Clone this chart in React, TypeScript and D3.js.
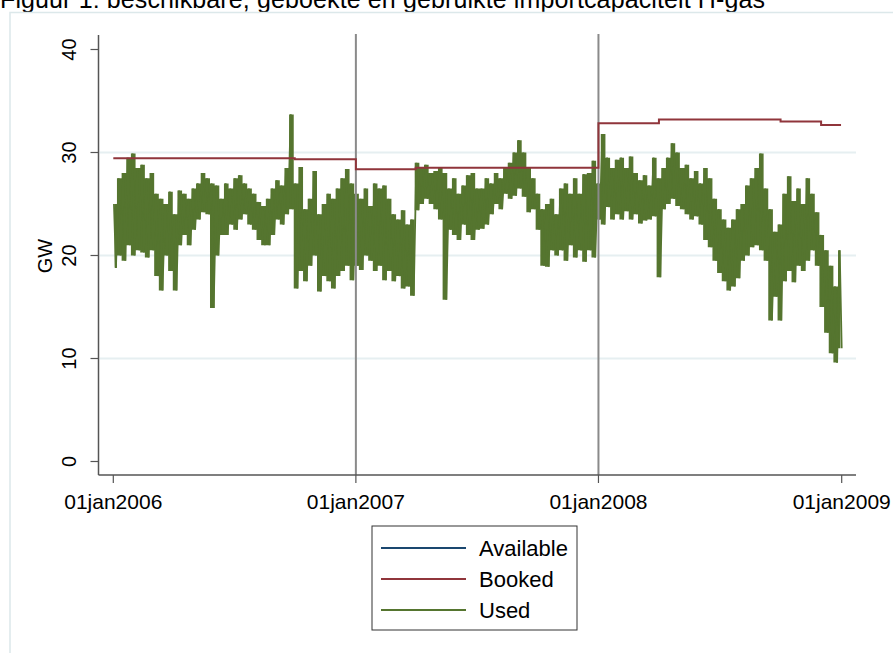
import React from 'react';
import * as d3 from 'd3';

const titleText = 'Figuur 1: beschikbare, geboekte en gebruikte importcapaciteit H-gas';
const yAxisLabel = 'GW';
const yTicks = [0, 10, 20, 30, 40];
const gridValues = [10, 20, 30];
const xTickDates = ['2006-01-01', '2007-01-01', '2008-01-01', '2009-01-01'];
const xTickLabels = ['01jan2006', '01jan2007', '01jan2008', '01jan2009'];
const xLineDates = ['2007-01-01', '2008-01-01'];
const seriesNames = ['Available', 'Booked', 'Used'];
const seriesColors = ['#1a476f', '#90353b', '#55752f'];

const availableDates: string[] = [];
const availableValues: number[] = [];

const bookedDates = ['2006-01-01', '2006-10-01', '2007-01-01', '2007-04-01', '2008-01-01', '2008-04-01', '2008-10-01', '2008-12-01', '2008-12-31'];
const bookedValues = [29.45, 29.35, 28.37, 28.52, 32.83, 33.2, 33.0, 32.67, 32.67];

// Used: weekly weekday peak and weekend trough, weeks starting 01jan2006
const usedStart = '2006-01-01';
const usedWeeklyHigh = [
  // 2006
  25, 27.5, 28, 29.5, 29.9, 28.5, 28.8, 27.5, 28, 26,
  25.5, 25, 26.2, 24, 26.3, 26, 25.5, 26.5, 27, 28,
  27.5, 27, 26.8, 25.5, 27, 26.5, 27.5, 27.8, 27, 26.5,
  26, 25.2, 24.8, 25.5, 26.5, 27.3, 26.8, 28.5, 33.7, 27,
  28.6, 24.5, 25.5, 28.2, 24, 25, 26, 25.5, 26.5, 27.5,
  28.4, 27,
  // 2007
  26, 25.5, 26.5, 24.8, 27, 26.5, 26.8, 25.5, 24, 23.5,
  24.4, 23, 23.5, 29, 28.5, 28.8, 28, 28.2, 28.5, 28,
  26.5, 27.5, 26, 26.8, 27.8, 28, 26.5, 26.5, 27.5, 27,
  28, 27.5, 28.5, 29, 30, 31.2, 30, 28.5, 27.5, 26,
  24.5, 25, 25.5, 24, 26.5, 27, 26, 27.5, 26, 27.9,
  28, 29.2,
  // 2008
  27, 31.8, 29.5, 28.5, 29.3, 29.5, 28.5, 29.6, 28, 27.3,
  27.8, 26.8, 29.5, 27.5, 28.5, 29.5, 30.9, 30, 28.5, 28.8,
  27.5, 28.2, 27, 28.5, 27.5, 25.5, 24.5, 23.5, 22.7, 23.5,
  24.5, 25, 26.8, 27.5, 28.5, 29.9, 26.5, 24.5, 22.3, 23,
  26, 27.7, 25.3, 26.5, 25, 27.5, 26, 24.2, 22, 20.5,
  19, 17, 20.5,
];
const usedWeeklyLow = [
  // 2006
  18.8, 20, 19.5, 21, 20, 20.5, 20.3, 19.8, 20.5, 18,
  16.6, 20, 18.5, 16.6, 21, 22, 21, 22.5, 23.5, 24.2,
  24, 14.9, 20, 22, 22, 23, 22.5, 23.5, 24, 23,
  22.5, 21.5, 21, 21, 22, 23.5, 23, 24, 24.5, 16.8,
  18.5, 17.5, 19, 20, 16.5, 18, 17.5, 16.8, 18, 18.5,
  19, 17.6,
  // 2007
  19, 18.6, 20, 19.5, 18.5, 19, 17.6, 18.5, 17.5, 18,
  16.8, 17, 16.1, 24.4, 25, 25.5, 25, 24.5, 23.5, 15.7,
  22.5, 22, 21.5, 23, 22, 21.5, 22.5, 22.6, 23, 24,
  25, 24.5, 26, 25.5, 25.8, 26.5, 25.7, 24.2, 24.5, 22.5,
  19, 18.9, 20.5, 20, 20.5, 19.5, 21, 19.8, 20.5, 19.4,
  20.5, 19.8,
  // 2008
  23.5, 23, 24.7, 23.5, 24, 23.5, 24.3, 23.5, 24, 23.1,
  23.4, 23.5, 23.8, 17.9, 24.5, 25, 25.5, 24.8, 24.5, 24,
  23.5, 23.8, 23, 21.5, 20.8, 19.5, 18.3, 17.5, 16.6, 17,
  17.8, 19.5, 20, 20.8, 21, 20.5, 19.5, 13.7, 16, 13.7,
  17.5, 18.5, 17.4, 19, 18.5, 19.5, 20.5, 19, 15, 12.5,
  10.5, 9.6, 11,
];

const FONT = '"Liberation Sans", Arial, Helvetica, sans-serif';
const W = 893;
const H = 653;

type Pt = { d: Date; v: number };
type Band = { d: Date; hi: number; lo: number };

export default function App() {
  const parse = d3.utcParse('%Y-%m-%d');
  const x = d3
    .scaleUtc()
    .domain([parse('2006-01-01') as Date, parse('2009-01-01') as Date])
    .range([113.3, 841.7]);
  const y = d3.scaleLinear().domain([0, 40]).range([461.5, 49.5]);

  const plotLeft = 98.5;
  const plotTop = 35;
  const plotBottom = 475;
  const plotRight = 856;

  const start = parse(usedStart) as Date;
  const usedPts: Pt[] = [];
  const bandPts: Band[] = [];
  const n = Math.min(usedWeeklyHigh.length, usedWeeklyLow.length);
  for (let i = 0; i < n; i++) {
    usedPts.push({ d: d3.utcDay.offset(start, i * 7 + 1), v: usedWeeklyHigh[i] });
    usedPts.push({ d: d3.utcDay.offset(start, i * 7 + 4), v: usedWeeklyLow[i] });
    bandPts.push({ d: d3.utcDay.offset(start, i * 7 + 2.5), hi: usedWeeklyHigh[i], lo: usedWeeklyLow[i] });
  }

  const line = d3
    .line<Pt>()
    .x((p) => x(p.d))
    .y((p) => y(p.v));
  const stepLine = d3
    .line<Pt>()
    .x((p) => x(p.d))
    .y((p) => y(p.v))
    .curve(d3.curveStepAfter);

  // dense daily swing: each week's span from trough to peak
  const band = d3
    .area<Band>()
    .x((p) => x(p.d))
    .y0((p) => y(p.lo))
    .y1((p) => y(p.hi))
    .curve(d3.curveStep);

  const bookedPts = bookedDates.map((s, i) => ({ d: parse(s) as Date, v: bookedValues[i] }));
  const availablePts = availableDates.map((s, i) => ({ d: parse(s) as Date, v: availableValues[i] }));

  const legendX = 372;
  const legendY = 526;
  const legendW = 205;
  const legendH = 104;
  const rowYs = [548, 579, 610];

  return (
    <svg
      width={W}
      height={H}
      style={{ position: 'absolute', left: 0, top: 0, background: '#fff' }}
      fontFamily={FONT}
    >
      <rect x={0} y={0} width={W} height={H} fill="#ffffff" />
      {/* title (cut at the top, as in the original) */}
      <text x={0} y={8} fontSize={25} textLength={765} fill="#000">
        {titleText}
      </text>
      {/* graph region border */}
      <path d={`M10,${H + 5} L10,12.5 L${W + 5},12.5`} fill="none" stroke="#dce8ea" strokeWidth={1.5} />

      {/* gridlines */}
      {gridValues.map((g) => (
        <line key={g} x1={plotLeft + 1} x2={plotRight} y1={y(g)} y2={y(g)} stroke="#e6eff1" strokeWidth={2} />
      ))}

      {/* series */}
      {availablePts.length > 1 && (
        <path d={line(availablePts) || ''} fill="none" stroke={seriesColors[0]} strokeWidth={2} />
      )}
      <path d={band(bandPts) || ''} fill={seriesColors[2]} stroke="none" />
      <path d={line(usedPts) || ''} fill="none" stroke={seriesColors[2]} strokeWidth={1.8} strokeLinejoin="miter" strokeMiterlimit={2} />

      {/* vertical reference lines */}
      {xLineDates.map((s) => {
        const xx = x(parse(s) as Date);
        return <line key={s} x1={xx} x2={xx} y1={34} y2={plotBottom} stroke="#8a8a8a" strokeWidth={2} />;
      })}

      <path d={stepLine(bookedPts) || ''} fill="none" stroke={seriesColors[1]} strokeWidth={2} />

      {/* y axis */}
      <line x1={plotLeft} x2={plotLeft} y1={plotTop} y2={plotBottom} stroke="#555" strokeWidth={1.5} />
      {yTicks.map((t) => (
        <g key={t}>
          <line x1={plotLeft - 8} x2={plotLeft} y1={y(t)} y2={y(t)} stroke="#555" strokeWidth={1.2} />
          <text
            transform={`translate(76,${y(t)}) rotate(-90)`}
            textAnchor="middle"
            fontSize={20}
            fill="#000"
          >
            {t}
          </text>
        </g>
      ))}
      <text transform={`translate(52,256) rotate(-90)`} textAnchor="middle" fontSize={20} fill="#000">
        {yAxisLabel}
      </text>

      {/* x axis */}
      <line x1={plotLeft} x2={plotRight} y1={plotBottom} y2={plotBottom} stroke="#555" strokeWidth={1.5} />
      {xTickDates.map((s, i) => {
        const xx = x(parse(s) as Date);
        return (
          <g key={s}>
            <line x1={xx} x2={xx} y1={plotBottom} y2={plotBottom + 8} stroke="#555" strokeWidth={1.2} />
            <text x={xx} y={509} textAnchor="middle" fontSize={21} fill="#000">
              {xTickLabels[i]}
            </text>
          </g>
        );
      })}

      {/* legend */}
      <rect x={legendX} y={legendY} width={legendW} height={legendH} fill="#fff" stroke="#333" strokeWidth={1} />
      {seriesNames.map((nm, i) => (
        <g key={nm}>
          <line x1={381} x2={466} y1={rowYs[i]} y2={rowYs[i]} stroke={seriesColors[i]} strokeWidth={2} />
          <text x={479} y={rowYs[i] + 7.5} fontSize={22} fill="#000">
            {nm}
          </text>
        </g>
      ))}
    </svg>
  );
}
